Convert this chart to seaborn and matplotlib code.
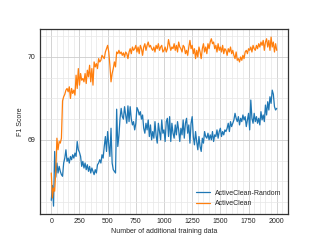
import numpy as np
import pandas as pd
import matplotlib
matplotlib.use("Agg")
import matplotlib.pyplot as plt
from matplotlib.ticker import MultipleLocator
import seaborn as sns

# x positions: every 10 additional training points
steps = list(range(0, 2001, 10))

random_f1 = [
    68.27, 68.45, 68.20, 68.86, 68.55, 68.72, 68.60, 68.68, 68.62, 68.58,
    68.56, 68.72, 68.78, 68.88, 68.74, 68.78, 68.72, 68.80, 68.76, 68.82,
    68.78, 68.84, 68.80, 68.98, 68.88, 68.85, 68.80, 68.68, 68.74, 68.66,
    68.72, 68.64, 68.70, 68.62, 68.68, 68.60, 68.66, 68.62, 68.58, 68.64,
    68.60, 68.70, 68.72, 68.76, 68.72, 68.82, 68.78, 68.92, 69.04, 68.86,
    69.10, 68.94, 68.80, 69.14, 68.72, 68.64, 68.62, 68.60, 69.37, 68.92,
    69.05, 69.26, 69.38, 69.28, 69.25, 69.40, 69.30, 69.20, 69.41, 69.22,
    69.40, 69.25, 69.18, 69.22, 69.12, 69.20, 69.39, 69.36, 69.30, 69.34,
    69.25, 69.30, 69.14, 69.08, 69.20, 69.12, 69.24, 69.04, 69.18, 69.00,
    69.10, 69.02, 69.22, 69.05, 68.96, 69.20, 69.10, 69.00, 69.24, 69.08,
    69.12, 68.98, 69.22, 69.26, 69.04, 69.28, 68.98, 69.20, 69.08, 69.02,
    69.18, 69.06, 69.22, 69.12, 68.98, 69.14, 69.06, 69.24, 69.02, 69.20,
    69.26, 69.08, 69.18, 68.96, 69.20, 69.28, 69.04, 68.94, 69.10, 68.98,
    68.88, 69.04, 68.92, 68.86, 69.02, 68.96, 69.10, 69.04, 69.02, 69.08,
    69.00, 69.06, 69.00, 69.10, 68.98, 69.06, 69.04, 69.12, 69.02, 69.10,
    69.14, 69.04, 69.10, 69.06, 69.12, 69.10, 69.14, 69.20, 69.10, 69.22,
    69.16, 69.20, 69.24, 69.32, 69.26, 69.22, 69.28, 69.18, 69.26, 69.22,
    69.30, 69.24, 69.28, 69.16, 69.24, 69.32, 69.12, 69.48, 69.26, 69.20,
    69.32, 69.22, 69.28, 69.20, 69.26, 69.18, 69.34, 69.24, 69.30, 69.22,
    69.42, 69.30, 69.46, 69.36, 69.52, 69.44, 69.60, 69.55, 69.40, 69.36,
    69.38,
]

activeclean_f1 = [
    68.60, 68.30, 68.42, 68.38, 68.62, 69.02, 68.88, 68.98, 68.96, 69.02,
    69.47, 69.52, 69.55, 69.60, 69.62, 69.58, 69.64, 69.50, 69.62, 69.56,
    69.60, 69.54, 69.78, 69.62, 69.86, 69.66, 69.80, 69.72, 69.74, 69.70,
    69.80, 69.68, 69.84, 69.76, 69.90, 69.70, 69.86, 69.66, 69.94, 69.88,
    69.92, 69.86, 69.98, 69.94, 69.96, 70.02, 70.00, 69.98, 70.06, 70.10,
    70.14, 70.06, 69.90, 69.70, 69.80, 69.86, 69.94, 69.88, 70.06, 70.04,
    70.08, 70.04, 70.06, 70.02, 70.05, 70.00, 70.06, 70.04, 69.98, 70.06,
    70.10, 70.04, 70.12, 70.08, 70.10, 70.14, 70.06, 70.12, 70.04, 70.14,
    70.10, 70.02, 70.12, 70.16, 70.08, 70.14, 70.18, 70.12, 70.14, 70.10,
    70.08, 70.12, 70.06, 70.14, 70.10, 70.16, 70.08, 70.12, 70.14, 70.06,
    70.08, 70.12, 70.06, 70.10, 70.21, 70.14, 70.08, 70.12, 70.10, 70.16,
    70.08, 70.14, 70.06, 70.18, 70.12, 70.10, 70.06, 70.14, 70.12, 70.04,
    70.08, 70.02, 70.12, 70.20, 70.10, 70.14, 70.04, 70.10, 69.98, 70.08,
    70.00, 70.12, 70.06, 69.98, 70.10, 70.16, 70.06, 70.12, 70.04, 70.16,
    70.10, 70.18, 70.22, 70.16, 70.18, 70.10, 70.14, 70.06, 70.16, 70.08,
    70.12, 70.06, 70.14, 70.04, 70.10, 70.08, 70.02, 70.10, 70.06, 70.12,
    70.04, 70.08, 70.02, 69.98, 70.06, 69.96, 69.98, 69.94, 70.00, 69.96,
    70.02, 69.98, 70.06, 70.08, 70.04, 70.10, 70.08, 70.12, 70.06, 70.14,
    70.10, 70.08, 70.14, 70.10, 70.16, 70.12, 70.18, 70.14, 70.20, 70.08,
    70.18, 70.22, 70.12, 70.20, 70.08, 70.24, 70.12, 70.18, 70.06, 70.16,
    70.08,
]

df = pd.DataFrame({
    "n": steps * 2,
    "f1": random_f1 + activeclean_f1,
    "method": ["ActiveClean-Random"] * len(steps) + ["ActiveClean"] * len(steps),
})

sns.set_style("whitegrid")
plt.rcParams["font.family"] = ["Liberation Sans", "DejaVu Sans"]

fig, ax = plt.subplots(figsize=(6.4, 4.8), dpi=50)
sns.lineplot(data=df, x="n", y="f1", hue="method",
             palette=["#1f77b4", "#ff7f0e"], linewidth=1.8, ax=ax)

ax.set_ylim(68.11, 70.34)
ax.set_xlim(-100, 2100)
ax.xaxis.set_major_locator(MultipleLocator(250))
ax.xaxis.set_minor_locator(MultipleLocator(50))
ax.yaxis.set_major_locator(MultipleLocator(1))
ax.yaxis.set_minor_locator(MultipleLocator(0.25))
ax.grid(which="major", color="#cccccc", linewidth=1.2)
ax.grid(which="minor", color="#e6e6e6", linewidth=1.0)
ax.set_axisbelow(True)
for s in ax.spines.values():
    s.set_color("#333333")
    s.set_linewidth(1.8)

ax.set_xlabel("Number of additional training data")
ax.set_ylabel("F1 Score")
ax.legend(loc="lower right", frameon=False)

plt.savefig("out.png", dpi=50)
